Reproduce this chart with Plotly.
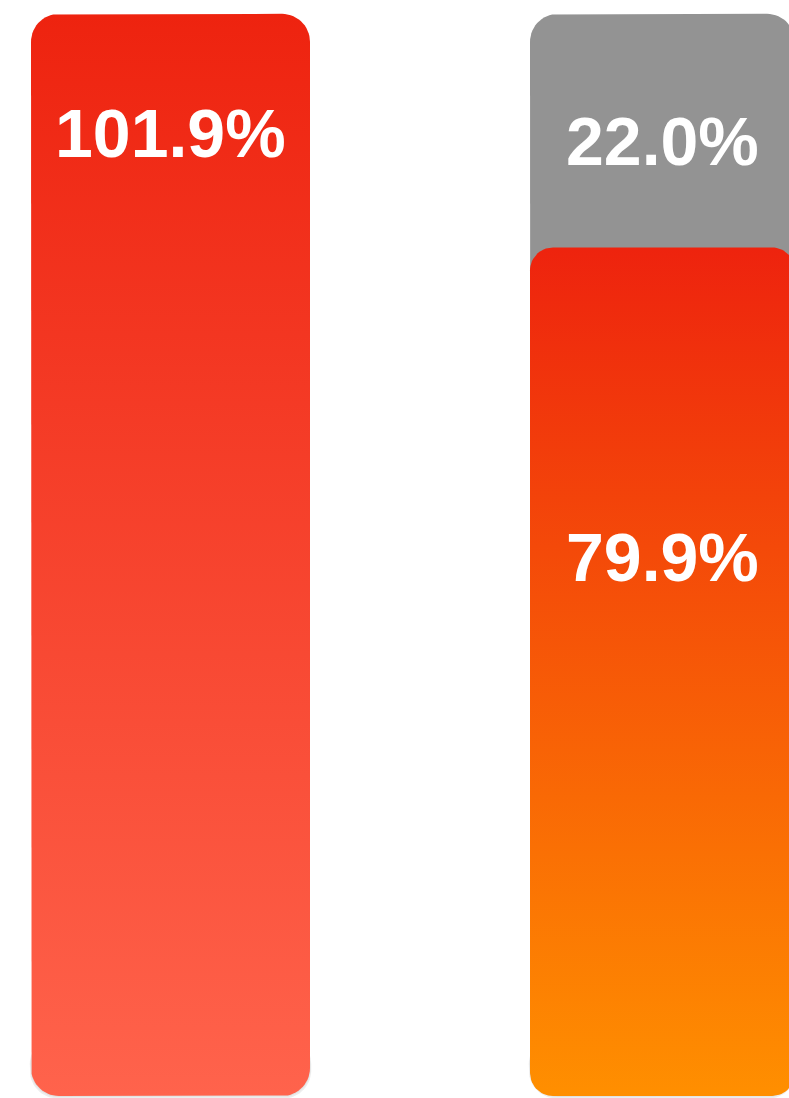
import numpy as np
import plotly.graph_objects as go

#---------------------------
# Data
#---------------------------
bar_index   = [0, 1]
actual_pct  = [101.9, 79.9]
remain_pct  = [None, 22.0]
label_text  = ["101.9%", "79.9%"]
remain_text = [None, "22.0%"]

#---------------------------
# Styles
#---------------------------
grad_left  = [ [0, 'rgb(255, 99, 76)'], [1, 'rgb(238, 35, 15)'] ]
grad_right = [ [0, 'rgb(255,143,  0)'], [1, 'rgb(238, 35, 14)'] ]
gradients  = [grad_left, grad_right]
grey_fill  = 'rgb(147,147,147)'

W, H      = 789, 1098
px_x      = 492.0          # pixels per category
px_y      = 10.62          # pixels per percent
base_px   = 1096           # pixel row of 0 %
bar_px    = [279, 265]
radius_px = [28, 23]       # outer bar / inner bar

x_lo = -170.5 / px_x
x_hi = x_lo + W / px_x
y_lo = -(H - base_px) / px_y
y_hi = y_lo + H / px_y


def rounded_bar(xc, y0, y1, width_px, r_px, n=16):
    """
    Outline of a bar with rounded corners, in data units.
    """
    half_w = width_px / px_x / 2
    rx, ry = r_px / px_x, r_px / px_y
    xs, ys = [], []
    centres = [ (xc + half_w - rx, y1 - ry, 0),
                (xc - half_w + rx, y1 - ry, 90),
                (xc - half_w + rx, y0 + ry, 180),
                (xc + half_w - rx, y0 + ry, 270) ]
    for cx, cy, a0 in centres:
        t = np.radians(np.linspace(a0, a0 + 90, n))
        xs += list(cx + rx * np.cos(t))
        ys += list(cy + ry * np.sin(t))
    xs.append(xs[0])
    ys.append(ys[0])
    return xs, ys


fig = go.Figure()

#---------------------------
# Shadows (bottom only)
#---------------------------
for i, v in zip(bar_index, actual_pct):
    for k, a in [(1.0, 0.05), (2.5, 0.07)]:
        sx, sy = rounded_bar(i, -k / px_y, 60 / px_y, bar_px[i] + 2 * k / 2, radius_px[0])
        fig.add_trace( go.Scatter( x=sx, y=sy, fill='toself', mode='lines',
                                   line=dict(width=0),
                                   fillcolor='rgba(0,0,0,%.2f)' % a,
                                   hoverinfo='skip', showlegend=False ) )

#---------------------------
# Grey remainder (behind)
#---------------------------
for i, v in zip(bar_index, actual_pct):
    if remain_pct[i] is None:
        continue
    gx, gy = rounded_bar(i, 0, v + remain_pct[i], bar_px[i], radius_px[0])
    fig.add_trace( go.Scatter( x=gx, y=gy, fill='toself', mode='lines',
                               line=dict(width=0),
                               fillcolor=grey_fill,
                               hoverinfo='skip', showlegend=False ) )

#---------------------------
# Gradient bars
#---------------------------
for i, v in zip(bar_index, actual_pct):
    r = radius_px[0] if remain_pct[i] is None else radius_px[1]
    bx, by = rounded_bar(i, 0, v, bar_px[i], r)
    fig.add_trace( go.Scatter( x=bx, y=by, fill='toself', mode='lines',
                               line=dict(width=0),
                               fillgradient=dict( type='vertical',
                                                  colorscale=gradients[i] ),
                               hoverinfo='skip', showlegend=False ) )

#---------------------------
# Labels
#---------------------------
font = dict(family='Liberation Sans, Arial, sans-serif', size=68,
            color='white', weight='bold')

label_drop  = [119, 310]   # px below bar top
remain_drop = [None, 127]

for i, v in zip(bar_index, actual_pct):
    fig.add_annotation( x=i, y=v - label_drop[i] / px_y,
                        text=label_text[i], showarrow=False, font=font )
    if remain_pct[i] is not None:
        fig.add_annotation( x=i, y=v + remain_pct[i] - remain_drop[i] / px_y,
                            text=remain_text[i], showarrow=False, font=font )

fig.update_xaxes( range=[x_lo, x_hi], visible=False, fixedrange=True )
fig.update_yaxes( range=[y_lo, y_hi], visible=False, fixedrange=True )

fig.update_layout( width=W, height=H,
                   margin=dict(l=0, r=0, t=0, b=0),
                   paper_bgcolor='white',
                   plot_bgcolor='white' )

fig.write_html( "out.html",
                config=dict(displayModeBar=False),
                post_script="document.body.style.margin='0';"
                            "document.body.style.overflow='hidden';" )
